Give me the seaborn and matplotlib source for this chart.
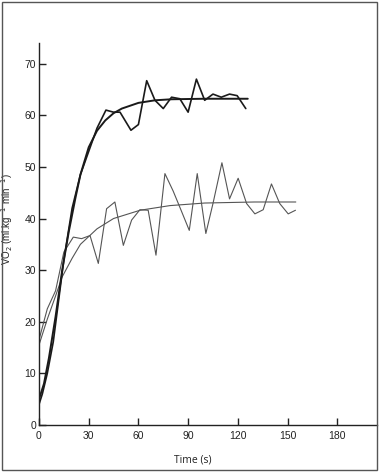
import matplotlib
matplotlib.use("Agg")
import matplotlib.pyplot as plt
from matplotlib.patches import Rectangle
import seaborn as sns
import pandas as pd

# Upper subject: measured VO2 (breath averages) and fitted curve
upper_t = [0, 2, 5, 8.6, 15, 20, 25, 30, 35, 40.4, 45, 48.9, 55.5, 60, 65, 70, 75, 80, 85, 90,
           95, 100, 105, 110, 115, 119.6, 124.8]
upper_vo2 = [4.0, 6.0, 10.0, 16.1, 32.0, 42.0, 48.5, 53.0, 57.5, 61.0, 60.6, 60.6, 57.1, 58.2,
             66.7, 62.9, 61.3, 63.5, 63.2, 60.6, 67.0, 62.9, 64.1, 63.5, 64.1, 63.8, 61.3]
upper_fit_t = [0, 3, 6, 10, 14, 18, 22, 25, 30, 35, 40, 45, 50, 60, 70, 80, 100, 126]
upper_fit = [5.0, 8.0, 13.0, 21.0, 30.0, 37.5, 44.0, 48.5, 53.8, 57.0, 59.0, 60.4, 61.3,
             62.4, 62.9, 63.1, 63.2, 63.2]

# Lower subject: measured VO2 and fitted curve
lower_t = [0, 5, 10, 15, 20.7, 25.7, 30.8, 35.8, 40.8, 45.8, 50.9, 55.9, 60.9, 65.9, 70.6, 76,
           81, 85.5, 90.7, 95.5, 100.7, 105, 110.4, 115, 120.2, 125.3, 130.3, 135.3, 140.3,
           145.3, 150.4, 154.8]
lower_vo2 = [16.5, 22.5, 26.0, 33.5, 36.4, 36.1, 36.7, 31.3, 41.9, 43.2, 34.8, 39.7, 41.7, 41.6,
             32.9, 48.7, 45.3, 41.8, 37.7, 48.7, 37.1, 42.9, 50.8, 43.8, 47.8, 42.9, 40.9, 41.7,
             46.7, 42.9, 40.9, 41.6]
lower_fit_t = [0, 5, 10, 14, 20, 25, 35, 45, 61, 79, 100, 130, 155]
lower_fit = [15.5, 20.5, 25.0, 28.7, 32.3, 35.0, 38.0, 40.0, 41.6, 42.5, 43.0, 43.2, 43.2]

x_ticks = [0, 30, 60, 90, 120, 150, 180]
y_ticks = [0, 10, 20, 30, 40, 50, 60, 70]

sns.set_style("ticks")
plt.rcParams['font.family'] = ['Liberation Sans', 'DejaVu Sans']

fig = plt.figure(figsize=(3.8, 4.72), dpi=100)
ax = fig.add_axes([39 / 380, 1 - 425 / 472, 338 / 380, 382 / 472])

df_ur = pd.DataFrame({"t": upper_t, "v": upper_vo2})
df_uf = pd.DataFrame({"t": upper_fit_t, "v": upper_fit})
df_lr = pd.DataFrame({"t": lower_t, "v": lower_vo2})
df_lf = pd.DataFrame({"t": lower_fit_t, "v": lower_fit})

sns.lineplot(data=df_lr, x="t", y="v", ax=ax, color="#555555", lw=0.8, sort=False, estimator=None)
sns.lineplot(data=df_lf, x="t", y="v", ax=ax, color="#555555", lw=0.8, sort=False, estimator=None)
sns.lineplot(data=df_ur, x="t", y="v", ax=ax, color="#1a1a1a", lw=1.2, sort=False, estimator=None)
sns.lineplot(data=df_uf, x="t", y="v", ax=ax, color="#1a1a1a", lw=1.4, sort=False, estimator=None)

ax.set_xlim(0, 204)
ax.set_ylim(0, 74)
ax.set_xticks(x_ticks)
ax.set_yticks(y_ticks)
ax.set_xticklabels([str(v) for v in x_ticks])
ax.set_yticklabels([str(v) for v in y_ticks])
ax.tick_params(axis="both", direction="in", length=5, width=1, color="#222222",
               labelsize=7.5, labelcolor="#222222")
ax.tick_params(axis="x", pad=4)
ax.tick_params(axis="y", pad=2)
sns.despine(ax=ax)
for s in ("left", "bottom"):
    ax.spines[s].set_color("#222222")
    ax.spines[s].set_linewidth(1.0)

ax.set_xlabel("Time (s)", fontsize=7.5, color="#222222", family=["Open Sans", "DejaVu Sans"])
ax.xaxis.set_label_coords(0.456, -0.077)
ax.set_ylabel("VO$_2$ (ml.kg$^{-1}$ min$^{-1}$)", fontsize=7, color="#222222")
ax.yaxis.set_label_coords(-0.072, 0.54)

fig.patches.append(Rectangle((2 / 380, 2 / 472), 375 / 380, 468 / 472, transform=fig.transFigure,
                             fill=False, edgecolor="#555555", lw=1.0))

fig.savefig("out.png", dpi=100)
